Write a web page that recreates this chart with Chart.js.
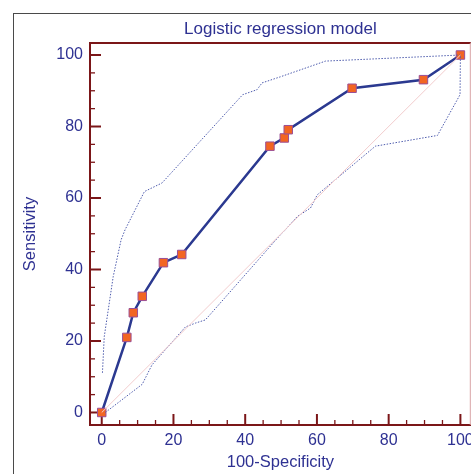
<!DOCTYPE html>
<html>
<head>
<meta charset="utf-8">
<script src="https://cdn.jsdelivr.net/npm/chart.js@4"></script>
<style>
  html, body { margin: 0; padding: 0; background: #fff; overflow: hidden; width: 471px; height: 474px; }
  #frame { position: absolute; left: 13px; top: 13px; width: 457px; height: 460px;
           border-left: 1px solid #4a4a4a; border-top: 1px solid #4a4a4a; }
  #wrap { position: absolute; left: 0; top: 0; width: 480px; height: 474px; }
</style>
</head>
<body>
<div id="frame"></div>
<div id="wrap"><canvas id="roc" width="480" height="474"></canvas></div>
<script>
// ROC curve (100-Specificity vs Sensitivity)
const rocX = [0, 7.0, 8.8, 11.3, 17.2, 22.3, 46.9, 50.9, 52.0, 69.8, 89.7, 100];
const rocY = [0, 21.0, 27.9, 32.5, 41.9, 44.2, 74.5, 76.8, 79.1, 90.7, 93.1, 100];

// upper / lower confidence bounds
const upperX = [0.2, 0.7, 3.2, 5.4, 6.5, 11.9, 16.8, 39.3, 43.3, 44.7, 49.8, 62.4, 100];
const upperY = [11.1, 21.2, 38.0, 48.3, 51.1, 61.8, 64.2, 88.9, 90.3, 92.2, 93.9, 98.3, 100];
const lowerX = [1.0, 11.3, 14.0, 23.3, 26.1, 28.9, 49.8, 51.2, 54.5, 58.2, 60.1, 76.3, 93.6, 99.9, 100];
const lowerY = [0, 7.9, 13.3, 23.9, 25.0, 25.9, 49.7, 51.1, 54.8, 57.2, 60.9, 74.5, 77.5, 88.9, 100];

// reference diagonal
const diagX = [0, 100];
const diagY = [0, 100];

const tickValues = [0, 5, 10, 15, 20, 25, 30, 35, 40, 45, 50, 55, 60, 65, 70, 75, 80, 85, 90, 95, 100];
const majorEvery = 20;

const toPoints = (xs, ys) => xs.map((x, i) => ({ x: x, y: ys[i] }));

const textColor = "#2e3192";
const axisColor = "#7b1618";
const font = "Arial, 'Liberation Sans', sans-serif";

// ticks point inward, like the original
const innerTicks = {
  id: "innerTicks",
  beforeDatasetsDraw(chart) {
    const { ctx, chartArea, scales } = chart;
    ctx.save();
    ctx.strokeStyle = axisColor;
    // frame: top dark, right light
    ctx.lineWidth = 2;
    ctx.beginPath();
    ctx.moveTo(chartArea.left, chartArea.top);
    ctx.lineTo(chartArea.right, chartArea.top);
    ctx.stroke();
    ctx.strokeStyle = "#d9a3a6";
    ctx.lineWidth = 1;
    ctx.beginPath();
    ctx.moveTo(chartArea.right - 0.5, chartArea.top);
    ctx.lineTo(chartArea.right - 0.5, chartArea.bottom);
    ctx.stroke();

    ctx.strokeStyle = axisColor;
    tickValues.forEach(v => {
      const major = v % majorEvery === 0;
      const len = major ? 11 : 5;
      ctx.lineWidth = major ? 2 : 1.3;
      const px = scales.x.getPixelForValue(v);
      ctx.beginPath();
      ctx.moveTo(px, chartArea.bottom);
      ctx.lineTo(px, chartArea.bottom - len);
      ctx.stroke();
      const py = scales.y.getPixelForValue(v);
      ctx.beginPath();
      ctx.moveTo(chartArea.left, py);
      ctx.lineTo(chartArea.left + len, py);
      ctx.stroke();
    });
    ctx.restore();
  }
};

new Chart(document.getElementById("roc"), {
  type: "line",
  data: {
    datasets: [
      {
        data: toPoints(diagX, diagY),
        borderColor: "#f2cccd",
        borderWidth: 1,
        pointRadius: 0
      },
      {
        data: toPoints(upperX, upperY),
        borderColor: "#4e5cad",
        borderWidth: 1,
        borderDash: [1.5, 1.5],
        pointRadius: 0
      },
      {
        data: toPoints(lowerX, lowerY),
        borderColor: "#4e5cad",
        borderWidth: 1,
        borderDash: [1.5, 1.5],
        pointRadius: 0
      },
      {
        data: toPoints(rocX, rocY),
        borderColor: "#2b3990",
        borderWidth: 2.5,
        pointStyle: "rect",
        pointRadius: 6,
        pointBackgroundColor: "#f26522",
        pointBorderColor: "#9b4f96",
        pointBorderWidth: 1
      }
    ]
  },
  options: {
    responsive: false,
    animation: false,
    lineTension: 0,
    layout: { padding: { left: 0, right: 1, top: 0, bottom: 0 } },
    plugins: {
      legend: { display: false },
      tooltip: { enabled: false },
      title: {
        display: true,
        fullSize: false,
        text: "Logistic regression model",
        color: textColor,
        font: { family: font, size: 17, weight: "normal" },
        padding: { top: 18.8, bottom: 3.8 }
      }
    },
    scales: {
      x: {
        type: "linear",
        min: -3.27,
        max: 102.9,
        afterBuildTicks: s => { s.ticks = tickValues.map(v => ({ value: v })); },
        afterFit: s => { s.height = 49; },
        grid: { display: false, drawTicks: false, tickLength: 0 },
        border: { display: true, color: axisColor, width: 2 },
        ticks: {
          autoSkip: false,
          maxRotation: 0,
          padding: 6,
          color: textColor,
          font: { family: font, size: 16 },
          callback: v => (v % majorEvery === 0 ? v : "")
        },
        title: {
          display: true,
          text: "100-Specificity",
          color: textColor,
          font: { family: font, size: 16.5 },
          padding: { top: 0, bottom: 1.4 }
        }
      },
      y: {
        type: "linear",
        min: -3.5,
        max: 103.36,
        afterBuildTicks: s => { s.ticks = tickValues.map(v => ({ value: v })); },
        afterFit: s => { s.width = 90; },
        grid: { display: false, drawTicks: false, tickLength: 0 },
        border: { display: true, color: axisColor, width: 2 },
        ticks: {
          autoSkip: false,
          padding: 7,
          color: textColor,
          font: { family: font, size: 16 },
          callback: v => (v % majorEvery === 0 ? v : "")
        },
        title: {
          display: true,
          text: "Sensitivity",
          color: textColor,
          font: { family: font, size: 16.5 },
          padding: { top: 20.1, bottom: 0 }
        }
      }
    }
  },
  plugins: [innerTicks]
});
</script>
</body>
</html>
